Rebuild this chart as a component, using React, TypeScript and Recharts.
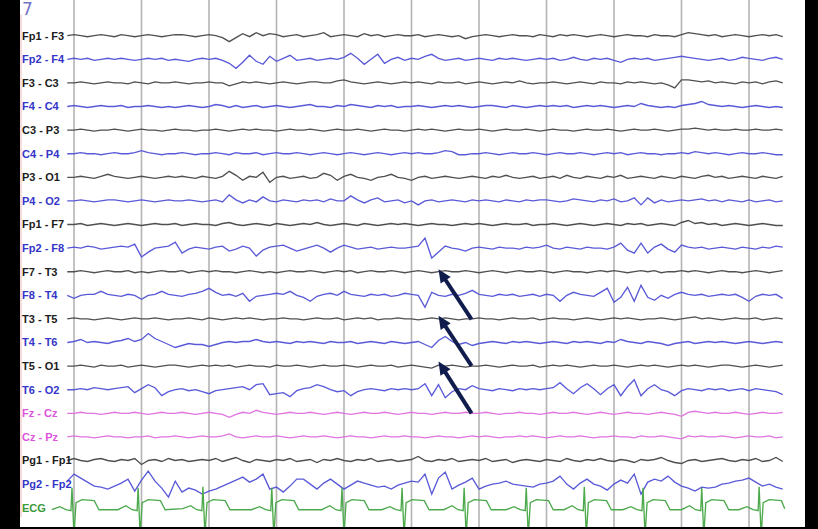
import React from 'react';
import { LineChart, Line, XAxis, YAxis, ReferenceLine, ReferenceDot } from 'recharts';

// ---- channel montage ----
const channelNames = [
  'Fp1 - F3', 'Fp2 - F4', 'F3 - C3', 'F4 - C4', 'C3 - P3', 'C4 - P4', 'P3 - O1', 'P4 - O2',
  'Fp1 - F7', 'Fp2 - F8', 'F7 - T3', 'F8 - T4', 'T3 - T5', 'T4 - T6', 'T5 - O1', 'T6 - O2',
  'Fz - Cz', 'Cz - Pz', 'Pg1 - Fp1', 'Pg2 - Fp2', 'ECG',
];
const channelGroups = [
  'k', 'b', 'k', 'b', 'k', 'b', 'k', 'b', 'k', 'b', 'k', 'b', 'k', 'b', 'k', 'b', 'm', 'm', 'k', 'b', 'g',
];
const secondMarks = [0, 1, 2, 3, 4, 5, 6, 7, 8, 9, 10];
const pageNumber = '7';

// samples every 0.1 s starting at -0.1 s ; amplitudes in display units (up positive)
const sampleStart = -0.1;
const sampleStep = 0.1;

const fp1f3 = [0,
  1,0,-1,0,1,0,-1,1,0,-1,
  0,1,0,-1,0,1,1,0,-1,0,
  1,0,-2,-6,-2,2,-1,3,0,2,
  1,-1,0,1,-1,0,1,3,-1,0,
  1,0,-1,2,0,1,-1,0,1,0,
  0,1,-1,0,1,0,-1,0,-3,-1,
  0,1,0,-1,0,1,0,0,-1,1,
  0,-1,1,0,1,0,-1,0,1,0,
  -1,0,1,0,0,-1,1,0,0,-1,
  1,3,2,1,0,1,-1,0,1,0,
  -1,0,1,0,1,-1];
const fp2f4 = [0,
  1,0,1,-1,0,1,0,1,0,-1,
  0,1,0,1,-1,0,-1,-2,0,1,
  0,1,-1,-4,-9,-3,4,-2,-5,3,
  -2,1,4,-1,0,1,-1,0,1,0,
  2,6,1,-5,0,5,-4,0,2,-1,
  1,0,3,5,1,-1,0,1,-1,0,
  1,0,-1,1,0,1,0,-1,0,1,
  0,1,-1,0,2,0,-1,1,0,1,
  -1,-3,0,1,0,1,-1,0,1,2,
  3,2,1,0,-1,0,1,-1,0,2,
  1,0,-1,1,2,0];
const f3c3 = [0,
  0,1,0,-1,0,1,0,0,-1,1,
  0,-1,1,0,0,1,0,-1,0,0,
  1,0,0,-3,-1,1,0,1,0,-1,
  0,1,0,-1,0,1,1,0,0,2,
  3,1,0,-1,0,1,0,-1,0,1,
  0,1,0,-1,1,0,0,1,-1,0,
  1,0,-1,0,1,0,2,0,-1,0,
  0,1,0,-1,0,1,0,-1,1,0,
  0,-1,1,0,1,0,-1,0,-2,-5,
  3,3,2,1,2,0,1,0,-1,1,
  0,1,-1,1,2,0];
const f4c4 = [0,
  1,0,-1,0,1,0,0,1,-1,0,
  0,1,0,-1,0,-1,0,1,0,-1,
  0,2,1,-1,1,-1,0,1,-1,0,
  1,0,-1,0,1,2,0,0,-1,1,
  0,2,1,0,-1,1,0,1,-1,0,
  0,1,0,-1,0,1,0,1,0,-1,
  0,1,1,0,-1,1,0,-1,0,1,
  0,1,0,1,-1,0,1,0,1,0,
  -1,0,1,0,3,1,0,-1,0,-1,
  1,2,3,5,2,1,0,1,0,-1,
  0,1,0,-1,0,-1];
const c3p3 = [0,
  0,1,0,-1,0,0,1,0,-1,0,
  1,0,0,-1,0,1,0,0,-1,0,
  0,1,0,-1,0,1,0,1,0,0,
  -1,0,1,0,0,1,0,-1,0,1,
  0,0,1,0,-1,0,1,0,0,-1,
  0,1,0,1,0,-1,0,1,0,0,
  1,0,-1,0,1,0,0,1,0,-1,
  0,1,0,0,-1,0,1,0,0,1,
  0,-1,0,1,0,0,1,0,-1,0,
  1,1,2,1,0,1,0,0,1,0,
  0,1,0,0,1,0];
const c4p4 = [0,
  0,1,0,0,-1,0,1,0,0,1,
  3,1,0,-1,0,0,1,0,-1,0,
  0,1,0,-1,1,0,0,1,-1,0,
  1,0,0,1,0,-1,0,1,0,-1,
  0,1,0,-1,0,1,0,-1,0,1,
  0,1,0,0,1,3,2,-1,-1,0,
  0,1,0,-1,0,1,0,0,1,0,
  -1,0,1,0,0,1,0,-1,0,1,
  0,1,-1,0,1,0,0,-1,0,0,
  1,0,2,1,0,1,0,-1,0,1,
  0,0,1,0,-1,-1];
const p3o1 = [0,
  0,1,0,-1,1,3,1,0,-1,0,
  1,0,-1,0,1,0,1,0,-1,1,
  0,-1,1,6,2,-3,1,0,5,-5,
  0,1,-1,0,1,-1,0,4,2,-3,
  1,3,0,-1,-3,0,1,3,0,-1,
  -3,0,1,-1,0,1,0,-1,0,1,
  0,-1,1,0,2,0,-1,0,1,-1,
  0,1,-1,2,0,-1,1,0,-1,1,
  0,2,-1,0,1,0,-1,1,0,-1,
  1,0,-1,1,2,0,1,-1,0,1,
  0,-1,1,0,-1,1];
const p4o2 = [0,
  0,1,0,-1,0,1,1,0,-1,0,
  1,0,-1,0,1,0,0,1,0,-1,
  0,1,-1,6,1,-2,1,-1,4,0,
  -1,1,0,-1,1,0,1,-1,2,0,
  0,5,1,-2,1,3,-1,0,1,-2,
  0,-4,0,1,-1,0,1,0,-1,1,
  0,1,0,-1,1,0,-1,1,0,1,
  1,0,-1,0,2,1,0,-1,1,0,
  2,-1,0,3,-4,3,-2,1,-1,0,
  1,0,1,2,0,1,-1,1,0,-1,
  1,-1,0,1,-1,0];
const fp1f7 = [0,
  0,1,-1,0,1,0,-1,0,1,0,
  -1,0,1,0,0,1,-1,0,1,0,
  0,-1,1,2,0,-1,0,1,0,-1,
  1,0,-1,0,1,0,2,0,-1,0,
  1,0,-1,1,0,-1,0,1,0,1,
  0,-1,0,1,0,0,-1,0,1,0,
  1,0,-1,0,1,0,0,1,-1,0,
  0,1,0,-1,0,1,0,-1,0,1,
  0,-1,1,0,1,-1,0,1,0,-1,
  2,4,1,2,0,1,-1,0,1,0,
  -1,0,1,0,-1,-1];
const fp2f8 = [0,
  1,0,2,1,-1,0,1,2,1,4,
  -9,-4,0,1,2,6,-5,-1,1,0,
  -1,1,2,-3,-1,2,0,-8,-2,1,
  2,3,0,-3,-1,1,3,0,-4,0,
  3,1,-1,0,1,-1,0,1,0,0,
  1,2,10,-10,-4,2,0,-1,-3,0,
  1,0,-1,1,0,0,-1,1,0,1,
  3,0,-1,1,0,-1,1,0,0,-1,
  1,5,-2,-5,5,-5,1,4,-1,-4,
  3,1,0,1,-1,0,1,0,-1,1,
  0,-1,1,0,2,1];
const f7t3 = [0,
  0,1,0,-1,0,1,0,0,1,-1,
  0,-1,0,1,0,0,1,-1,0,1,
  0,1,0,0,-1,0,1,0,-1,0,
  -1,0,1,0,0,1,0,-1,0,1,
  0,1,-1,0,1,0,0,1,0,-1,
  0,1,0,-1,0,1,0,0,1,0,
  -1,0,1,0,-1,0,1,0,0,1,
  0,-1,0,1,0,0,-1,0,1,0,
  1,0,-1,0,1,0,1,-1,0,0,
  1,0,1,0,-1,0,1,0,0,-1,
  0,1,0,-1,0,1];
const f8t4 = [0,
  -3,0,1,1,4,1,0,-1,1,0,
  -4,0,1,4,1,0,-1,1,2,4,
  7,3,0,1,-1,2,-6,-1,0,1,
  2,1,4,0,-2,-6,-1,1,2,0,
  4,1,0,-1,1,0,1,-1,0,2,
  1,0,-12,3,0,-1,1,0,2,5,
  1,0,-1,1,0,1,-1,0,1,-1,
  1,0,-6,0,3,1,0,-1,3,7,
  -7,-2,8,-6,10,-2,-5,0,-3,1,
  3,1,0,1,-1,0,1,0,1,-2,
  -6,-1,1,0,1,-3];
const t3t5 = [0,
  1,0,0,-1,0,1,0,-1,0,1,
  0,0,1,0,-1,0,0,1,0,-1,
  1,0,-1,0,1,0,1,0,-1,0,
  0,1,0,0,-1,0,1,0,0,1,
  -1,0,1,0,1,-1,0,0,1,0,
  0,-1,0,1,0,1,0,-1,0,0,
  1,0,0,-1,0,1,0,0,1,-1,
  0,1,0,0,-1,0,1,0,-1,0,
  1,0,1,0,-1,0,0,1,0,-1,
  0,1,2,0,1,0,-1,0,1,0,
  0,1,-1,0,1,0];
const t4t6 = [0,
  1,3,0,1,0,-1,1,2,4,1,
  3,9,4,1,-2,-5,-3,-1,-2,-2,
  -4,-2,0,1,0,1,1,3,1,0,
  1,0,-1,1,0,1,0,-1,1,0,
  0,1,-1,0,1,0,-1,1,0,-1,
  0,1,-2,-5,2,6,1,-2,0,-3,
  -1,0,1,0,-1,1,0,1,0,-1,
  0,1,0,-1,1,0,1,0,-1,1,
  0,3,1,0,-1,1,0,-1,-3,-1,
  0,1,-1,0,1,0,1,0,-1,0,
  1,0,-1,0,1,0];
const t5o1 = [0,
  0,1,0,-1,1,0,0,1,-1,0,
  1,0,-1,0,1,1,0,-1,0,1,
  0,1,0,1,-1,0,1,0,0,-1,
  1,0,0,1,0,-1,0,1,0,0,
  1,0,-1,0,1,0,0,1,-1,0,
  1,0,-1,-2,1,0,1,0,-1,0,
  0,1,0,-1,0,1,0,0,1,-1,
  0,1,0,1,0,-1,0,1,0,0,
  1,0,-1,0,1,0,1,0,-1,0,
  1,0,1,0,-1,0,1,1,0,-1,
  0,1,0,-1,0,1];
const t6o2 = [0,
  0,1,0,2,1,0,1,2,3,-3,
  1,5,2,-6,-2,0,1,-1,0,-2,
  -4,-1,0,1,2,3,0,5,6,-5,
  -4,-3,-7,-1,1,2,5,3,0,-2,
  -1,-6,-2,0,1,0,-1,1,0,1,
  0,1,6,-6,5,-8,-2,1,0,4,
  1,0,-1,1,0,-1,1,0,1,0,
  1,2,7,1,-4,2,6,1,-5,1,
  5,-6,3,10,-6,1,5,0,-2,-6,
  -1,1,0,-1,1,0,1,-1,0,1,
  -1,1,0,-1,-2,-5];
const fzcz = [0,
  0,1,0,0,-1,0,1,0,0,1,
  0,-1,0,1,0,0,1,0,-1,0,
  1,0,-1,-4,-1,1,0,3,1,0,
  -1,0,1,0,0,1,0,-1,0,1,
  0,-1,0,1,0,0,1,0,-1,0,
  1,0,0,-1,0,1,0,0,1,0,
  0,1,0,-1,0,0,1,0,0,-1,
  0,1,0,0,1,0,-1,0,1,0,
  -1,0,1,0,0,-1,0,1,0,-1,
  -3,1,2,1,0,1,0,0,1,0,
  -1,0,1,0,0,1];
const czpz = [0,
  1,0,0,-1,0,1,0,0,-1,0,
  0,1,-1,0,0,1,0,-1,0,1,
  0,0,1,3,0,-1,0,1,0,0,
  1,0,-1,0,1,0,0,1,0,-1,
  0,1,0,0,-1,0,1,0,0,1,
  0,0,-1,0,1,0,0,-1,0,1,
  0,1,0,-1,0,0,1,0,1,0,
  -1,0,1,0,0,1,0,-1,0,0,
  1,0,0,-1,1,0,0,1,0,-1,
  -2,1,0,1,0,0,1,0,-1,0,
  1,0,0,1,-1,0];
const pg1fp1 = [0,
  2,0,-1,1,2,0,-1,1,0,2,
  -4,0,1,-1,2,0,1,-1,0,1,
  0,2,-1,1,3,0,-2,1,0,-1,
  1,0,2,-1,0,1,-2,1,0,2,
  0,-1,1,0,2,-1,0,1,-1,0,
  1,4,0,-1,1,0,2,-1,0,1,
  0,2,-1,0,1,-2,0,1,0,-1,
  1,0,-1,2,0,-1,1,0,2,0,
  -1,1,0,-2,1,0,1,3,0,-2,
  -3,0,1,-1,0,1,2,0,-1,1,
  0,2,-1,0,3,-1];
const pg2fp2 = [3,
  10,6,2,-2,-3,-5,-2,1,5,-7,
  4,13,3,-4,-13,3,-8,-4,-6,-10,
  -7,-5,-2,1,4,7,2,5,10,-5,
  -3,-8,-2,5,5,0,-5,1,5,0,
  -5,-1,3,1,-1,-3,-2,-5,-1,1,
  3,2,10,-10,6,12,-5,-1,2,6,
  -5,-2,0,1,3,0,-1,-2,-3,0,
  1,3,8,0,-5,1,5,0,-2,-6,
  0,4,1,10,-10,2,5,3,8,2,
  -2,-4,-7,-3,-4,-3,0,1,3,4,
  6,2,-2,0,-3,-5];

const eegSeries = [
  fp1f3, fp2f4, f3c3, f4c4, c3p3, c4p4, p3o1, p4o2, fp1f7, fp2f8,
  f7t3, f8t4, t3t5, t4t6, t5o1, t6o2, fzcz, czpz, pg1fp1, pg2fp2,
];

// ECG: [time (s), amplitude]
const ecgTrace: [number, number][] = [
  [-0.33, -2], [-0.21, 1], [-0.12, -2], [-0.045, -3], [-0.03, 20], [0.0, -28], [0.03, 5], [0.12, 8], [0.30, 7], [0.37, -2],
  [0.65, -2], [0.77, 2], [0.86, -2], [0.935, -3], [0.95, 20], [0.98, -28], [1.01, 5], [1.10, 8], [1.28, 7], [1.35, -2],
  [1.61, -1], [1.73, 2], [1.82, -2], [1.895, -3], [1.91, 21], [1.94, -28], [1.97, 5], [2.06, 8], [2.24, 7], [2.31, -2],
  [2.63, -2], [2.75, 1], [2.84, -2], [2.915, -3], [2.93, 20], [2.96, -28], [2.99, 5], [3.08, 8], [3.26, 7], [3.33, -2],
  [3.67, -2], [3.79, 2], [3.88, -2], [3.955, -3], [3.97, 20], [4.0, -28], [4.03, 5], [4.12, 8], [4.30, 7], [4.37, -2],
  [4.56, -2], [4.68, 1], [4.77, -2], [4.845, -3], [4.86, 20], [4.89, -28], [4.92, 5], [5.01, 8], [5.19, 7], [5.26, -2],
  [5.48, -2], [5.60, 2], [5.69, -2], [5.765, -3], [5.78, 20], [5.81, -28], [5.84, 5], [5.93, 8], [6.11, 7], [6.18, -2],
  [6.40, -2], [6.52, 1], [6.61, -2], [6.685, -3], [6.70, 20], [6.73, -28], [6.76, 5], [6.85, 8], [7.03, 7], [7.10, -2],
  [7.26, -2], [7.38, 2], [7.47, -2], [7.545, -3], [7.56, 21], [7.59, -28], [7.62, 5], [7.71, 8], [7.89, 7], [7.96, -2],
  [8.13, -2], [8.25, 1], [8.34, -2], [8.415, -3], [8.43, 20], [8.46, -28], [8.49, 5], [8.58, 8], [8.76, 7], [8.83, -2],
  [9.00, -2], [9.12, 2], [9.21, -2], [9.285, -3], [9.30, 20], [9.33, -28], [9.36, 5], [9.45, 8], [9.63, 7], [9.70, -2],
  [9.85, -2], [9.97, 1], [10.06, -2], [10.135, -3], [10.15, 21], [10.18, -28], [10.21, 5], [10.30, 8], [10.48, 7], [10.53, -1],
];

// annotation arrows: from (time, row) to (time, row)
const arrowNotes = [
  { fromT: 5.89, fromRow: 12.02, toT: 5.40, toRow: 9.9 },
  { fromT: 5.89, fromRow: 13.99, toT: 5.40, toRow: 11.87 },
  { fromT: 5.89, fromRow: 16.0, toT: 5.40, toRow: 13.81 },
];

// ---- styling / geometry ----
const ROW_PX = 23.6;
const CHART_W = 785;
const CHART_H = 527;
const T_MIN = -0.8;
const T_MAX = T_MIN + CHART_W / 67.5;
const Y_MAX = 35.7 / ROW_PX;
const Y_MIN = Y_MAX - CHART_H / ROW_PX;
const LABEL_T = -0.77;

const traceColor: Record<string, string> = { k: '#505050', b: '#5a5ad8', m: '#e074e0', g: '#4caa4c' };
const labelColor: Record<string, string> = { k: '#1c1c1c', b: '#3434c8', m: '#dc55dc', g: '#3a9a3a' };

const tableRows = fp1f3.map((_, i) => {
  const row: Record<string, number> = { t: Math.round((sampleStart + sampleStep * i) * 1000) / 1000 };
  eegSeries.forEach((s, c) => {
    row['c' + c] = -c + s[i] / ROW_PX;
  });
  return row;
});
const ecgRows = ecgTrace.map(([t, v]) => ({ t, ecg: -20 + v / ROW_PX }));

function ArrowShape(props: any) {
  const x1 = Number(props.x1), y1 = Number(props.y1), x2 = Number(props.x2), y2 = Number(props.y2);
  const dx = x2 - x1, dy = y2 - y1;
  const len = Math.hypot(dx, dy) || 1;
  const ux = dx / len, uy = dy / len;
  const L = 13, W = 6;
  const bx = x2 - ux * L, by = y2 - uy * L;
  const px = -uy, py = ux;
  const pts = `${x2},${y2} ${bx + px * W},${by + py * W} ${bx - px * W},${by - py * W}`;
  return (
    <g>
      <line x1={x1} y1={y1} x2={bx + ux * 2} y2={by + uy * 2} stroke="#101c4c" strokeWidth={4} />
      <polygon points={pts} fill="#101c4c" />
    </g>
  );
}

export default function App() {
  return (
    <div style={{ position: 'fixed', left: 0, top: 0, width: 818, height: 529, background: '#000' }}>
      <div style={{ position: 'absolute', left: 20, top: 0, width: CHART_W, height: CHART_H, background: '#fff' }}>
        <LineChart width={CHART_W} height={CHART_H} data={tableRows} margin={{ top: 0, right: 0, bottom: 0, left: 0 }}>
          <XAxis dataKey="t" type="number" domain={[T_MIN, T_MAX]} allowDataOverflow hide />
          <YAxis type="number" domain={[Y_MIN, Y_MAX]} allowDataOverflow hide />
          {secondMarks.map((s) => (
            <ReferenceLine key={'g' + s} x={s} stroke="#b4b4b4" strokeWidth={1.6} />
          ))}
          <ReferenceLine
            segment={[{ x: -0.785, y: 0.9 }, { x: -0.785, y: -20.4 }]}
            stroke="#f2b8b8"
            strokeWidth={1}
          />
          {eegSeries.map((_, c) => (
            <Line
              key={'c' + c}
              dataKey={'c' + c}
              type="linear"
              dot={false}
              stroke={traceColor[channelGroups[c]]}
              strokeWidth={1.35}
              isAnimationActive={false}
            />
          ))}
          <Line
            data={ecgRows}
            dataKey="ecg"
            type="linear"
            dot={false}
            stroke={traceColor.g}
            strokeWidth={1.35}
            isAnimationActive={false}
          />
          {channelNames.map((name, c) => (
            <ReferenceDot
              key={'l' + c}
              x={LABEL_T}
              y={-c}
              r={0}
              fill="none"
              stroke="none"
              label={{
                value: name,
                position: 'right',
                offset: 0,
                fill: labelColor[channelGroups[c]],
                fontSize: 11,
                fontWeight: 'bold',
                fontFamily: 'Liberation Sans, Arial, sans-serif',
              }}
            />
          ))}
          <ReferenceDot
            x={LABEL_T}
            y={Y_MAX - 9 / ROW_PX}
            r={0}
            fill="none"
            stroke="none"
            label={{ value: pageNumber, position: 'right', offset: 0, fill: '#7474c6', fontSize: 17, fontFamily: 'DejaVu Sans, sans-serif' }}
          />
          {arrowNotes.map((a, k) => (
            <ReferenceLine
              key={'a' + k}
              segment={[{ x: a.fromT, y: -a.fromRow }, { x: a.toT, y: -a.toRow }]}
              shape={ArrowShape}
              ifOverflow="visible"
            />
          ))}
        </LineChart>
      </div>
    </div>
  );
}
